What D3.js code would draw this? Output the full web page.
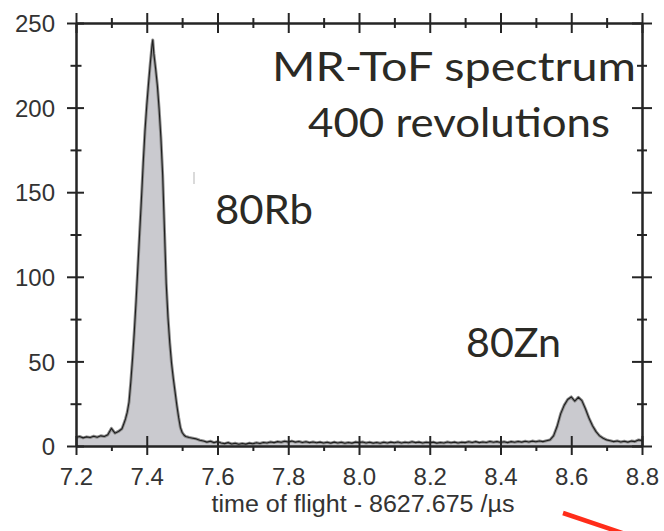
<!DOCTYPE html>
<html>
<head>
<meta charset="utf-8">
<script src="https://cdn.jsdelivr.net/npm/d3@7"></script>
<style>
  html, body { margin: 0; padding: 0; background: #ffffff; }
  svg { display: block; }
</style>
</head>
<body>
<svg id="chart" width="664" height="531"></svg>
<script>
// Time of flight (µs, offset by 8627.675) for each recorded bin
const tof = [
  7.20, 7.21, 7.22, 7.23, 7.24, 7.25, 7.26, 7.27, 7.28, 7.29, 7.30, 7.31, 7.32, 7.33,
  7.335, 7.34, 7.345, 7.35, 7.355, 7.36, 7.365, 7.37, 7.375, 7.38, 7.385, 7.39, 7.395, 7.40,
  7.405, 7.41, 7.415, 7.417, 7.42, 7.425, 7.43, 7.435, 7.44, 7.445, 7.45, 7.455, 7.46, 7.465,
  7.47, 7.475, 7.48, 7.485, 7.49, 7.495, 7.50, 7.505, 7.51,
  7.52, 7.53, 7.54, 7.55, 7.56, 7.57, 7.58, 7.59, 7.60,
  7.61, 7.62, 7.63, 7.64, 7.65, 7.66, 7.67, 7.68, 7.69, 7.70,
  7.71, 7.72, 7.73, 7.74, 7.75, 7.76, 7.77, 7.78, 7.79, 7.80,
  7.81, 7.82, 7.83, 7.84, 7.85, 7.86, 7.87, 7.88, 7.89, 7.90,
  7.91, 7.92, 7.93, 7.94, 7.95, 7.96, 7.97, 7.98, 7.99, 8.00,
  8.01, 8.02, 8.03, 8.04, 8.05, 8.06, 8.07, 8.08, 8.09, 8.10,
  8.11, 8.12, 8.13, 8.14, 8.15, 8.16, 8.17, 8.18, 8.19, 8.20,
  8.21, 8.22, 8.23, 8.24, 8.25, 8.26, 8.27, 8.28, 8.29, 8.30,
  8.31, 8.32, 8.33, 8.34, 8.35, 8.36, 8.37, 8.38, 8.39, 8.40,
  8.41, 8.42, 8.43, 8.44, 8.45, 8.46, 8.47, 8.48, 8.49, 8.50,
  8.51, 8.52, 8.53, 8.54, 8.55, 8.56, 8.57, 8.58, 8.59, 8.60,
  8.61, 8.62, 8.63, 8.64, 8.65, 8.66, 8.67, 8.68, 8.69, 8.70,
  8.71, 8.72, 8.73, 8.74, 8.75, 8.76, 8.77, 8.78, 8.79, 8.80
];

// Counts per bin
const counts = [
  5.0, 5.6, 4.8, 5.4, 5.0, 5.8, 5.2, 6.0, 5.6, 6.6, 10.4, 7.6, 8.6, 10.2,
  13, 16, 20, 26, 38, 52, 68, 86, 106, 126, 146, 167, 186, 201,
  214, 226, 237, 240, 232, 223, 213, 199, 182, 160, 128, 96, 76, 61,
  49, 40, 32, 24, 17, 11, 8, 6.5, 5.6,
  5.0, 4.6, 4.2, 3.4, 3.0, 2.3, 2.8, 2.0, 2.6,
  1.8, 1.4, 2.0, 1.2, 1.6, 1.0, 1.5, 1.1, 1.7, 1.3,
  1.9, 1.5, 2.1, 1.8, 2.4, 2.0, 2.6, 2.2, 2.8, 2.4,
  2.9, 2.3, 2.7, 2.1, 2.5, 2.0, 2.4, 1.9, 2.3, 1.8,
  2.2, 1.7, 2.3, 1.8, 2.2, 1.6, 2.1, 1.7, 2.3, 2.0,
  2.4, 1.8, 2.2, 1.7, 2.1, 1.6, 2.2, 1.8, 2.3, 1.9,
  2.4, 1.8, 2.2, 1.9, 2.5, 2.0, 2.3, 1.8, 2.2, 1.9,
  2.3, 1.7, 2.1, 1.8, 2.4, 1.9, 2.3, 1.8, 2.2, 2.0,
  2.5, 2.1, 2.6, 2.0, 2.4, 2.1, 2.7, 2.2, 2.6, 2.1,
  2.5, 2.0, 2.6, 2.2, 2.7, 2.3, 2.8, 2.4, 2.9, 2.5,
  3.0, 2.6, 3.1, 3.6, 6.0, 11.5, 19.0, 24.0, 27.5, 29.0,
  26.5, 28.8, 26.8, 22.0, 16.5, 12.0, 8.5, 6.0, 4.6, 3.6,
  3.1, 2.6, 3.0, 2.4, 2.8, 2.3, 2.9, 2.6, 3.6, 3.2
];

// Axis ticks
const xMajorTicks = [7.2, 7.4, 7.6, 7.8, 8.0, 8.2, 8.4, 8.6, 8.8];
const xMinorTicks = [7.3, 7.5, 7.7, 7.9, 8.1, 8.3, 8.5, 8.7];
const yMajorTicks = [0, 50, 100, 150, 200, 250];
const yMinorTicks = [25, 75, 125, 175, 225];
const xTitle = "time of flight - 8627.675 /µs";

// Annotation labels
const noteTexts = ["MR-ToF spectrum", "400 revolutions", "80Rb", "80Zn"];

const svg = d3.select("#chart");
const M = { left: 76, right: 642, top: 23, bottom: 446 };

const x = d3.scaleLinear().domain([7.2, 8.8]).range([M.left, M.right]);
const y = d3.scaleLinear().domain([0, 250]).range([M.bottom, M.top]);

const data = tof.map((t, i) => ({ t, c: counts[i] }));

// Filled spectrum
svg.append("path")
  .datum(data)
  .attr("fill", "#cacacf")
  .attr("d", d3.area().x(d => x(d.t)).y0(y(0)).y1(d => y(d.c)));

// Soft grey envelope and the measured trace on top
const line = d3.line().x(d => x(d.t)).y(d => y(d.c));
svg.append("path").datum(data)
  .attr("fill", "none").attr("stroke", "#8e8e8e").attr("stroke-width", 3)
  .attr("stroke-linejoin", "round").attr("d", line);
svg.append("path").datum(data)
  .attr("fill", "none").attr("stroke", "#1e1e1e").attr("stroke-width", 1.1)
  .attr("stroke-linejoin", "round").attr("d", line);

// Axes
const axisColor = "#252525";
const font = "'Liberation Sans', Arial, Helvetica, sans-serif";

function styleAxis(g, inner, outer, horizontal) {
  g.select(".domain").attr("stroke", axisColor).attr("stroke-width", 2);
  g.selectAll(".tick line").attr("stroke", axisColor).attr("stroke-width", 2);
  if (horizontal) {
    g.selectAll(".tick line").attr("y1", inner).attr("y2", outer);
  } else {
    g.selectAll(".tick line").attr("x1", inner).attr("x2", outer);
  }
}

// bottom
const gB = svg.append("g").attr("transform", `translate(0,${M.bottom})`)
  .call(d3.axisBottom(x).tickValues(xMajorTicks).tickSizeOuter(0).tickFormat(d3.format(".1f")));
styleAxis(gB, -10, 9, true);
gB.selectAll("text").attr("y", 39).attr("dy", 0)
  .attr("font-family", font).attr("font-size", 24).attr("fill", "#333");
const gBm = svg.append("g").attr("transform", `translate(0,${M.bottom})`)
  .call(d3.axisBottom(x).tickValues(xMinorTicks).tickSizeOuter(0).tickFormat(""));
styleAxis(gBm, 0, 5, true);

// top
const gT = svg.append("g").attr("transform", `translate(0,${M.top})`)
  .call(d3.axisTop(x).tickValues(xMajorTicks).tickSizeOuter(0).tickFormat(""));
styleAxis(gT, -10, 10, true);
const gTm = svg.append("g").attr("transform", `translate(0,${M.top})`)
  .call(d3.axisTop(x).tickValues(xMinorTicks).tickSizeOuter(0).tickFormat(""));
styleAxis(gTm, -5, 5, true);

// left
const gL = svg.append("g").attr("transform", `translate(${M.left},0)`)
  .call(d3.axisLeft(y).tickValues(yMajorTicks).tickSizeOuter(0));
styleAxis(gL, -9, 8, false);
gL.selectAll("text").attr("x", -21).attr("dy", "0.36em")
  .attr("font-family", font).attr("font-size", 24).attr("fill", "#333");
const gLm = svg.append("g").attr("transform", `translate(${M.left},0)`)
  .call(d3.axisLeft(y).tickValues(yMinorTicks).tickSizeOuter(0).tickFormat(""));
styleAxis(gLm, -5.5, 5.5, false);

// right
const gR = svg.append("g").attr("transform", `translate(${M.right},0)`)
  .call(d3.axisRight(y).tickValues(yMajorTicks).tickSizeOuter(0).tickFormat(""));
styleAxis(gR, -10, 10, false);
const gRm = svg.append("g").attr("transform", `translate(${M.right},0)`)
  .call(d3.axisRight(y).tickValues(yMinorTicks).tickSizeOuter(0).tickFormat(""));
styleAxis(gRm, -5, 5, false);

// axis title
svg.append("text")
  .attr("x", 363).attr("y", 512)
  .attr("text-anchor", "middle")
  .attr("font-family", font).attr("font-size", 23)
  .attr("textLength", 303).attr("lengthAdjust", "spacingAndGlyphs")
  .attr("fill", "#333")
  .text(xTitle);

// annotations
const notePos = [
  { x: 272, y: 81, w: 364 },
  { x: 308, y: 137, w: 302 },
  { x: 215, y: 224, w: 98 },
  { x: 466, y: 357, w: 95 }
];
svg.selectAll("text.note")
  .data(noteTexts)
  .join("text")
  .attr("class", "note")
  .attr("x", (d, i) => notePos[i].x)
  .attr("y", (d, i) => notePos[i].y)
  .attr("textLength", (d, i) => notePos[i].w)
  .attr("lengthAdjust", "spacingAndGlyphs")
  .attr("font-family", "Lato, 'Open Sans', sans-serif")
  .attr("font-size", 40)
  .attr("fill", "#2b2a25")
  .text(d => d);

// small stray mark and the red pointer entering from below
svg.append("line")
  .attr("x1", 194).attr("y1", 172).attr("x2", 194).attr("y2", 184)
  .attr("stroke", "#b5b5b5").attr("stroke-width", 1);
svg.append("line")
  .attr("x1", 563).attr("y1", 513).attr("x2", 640).attr("y2", 539)
  .attr("stroke", "#ff2d1a").attr("stroke-width", 4.5);
</script>
</body>
</html>
